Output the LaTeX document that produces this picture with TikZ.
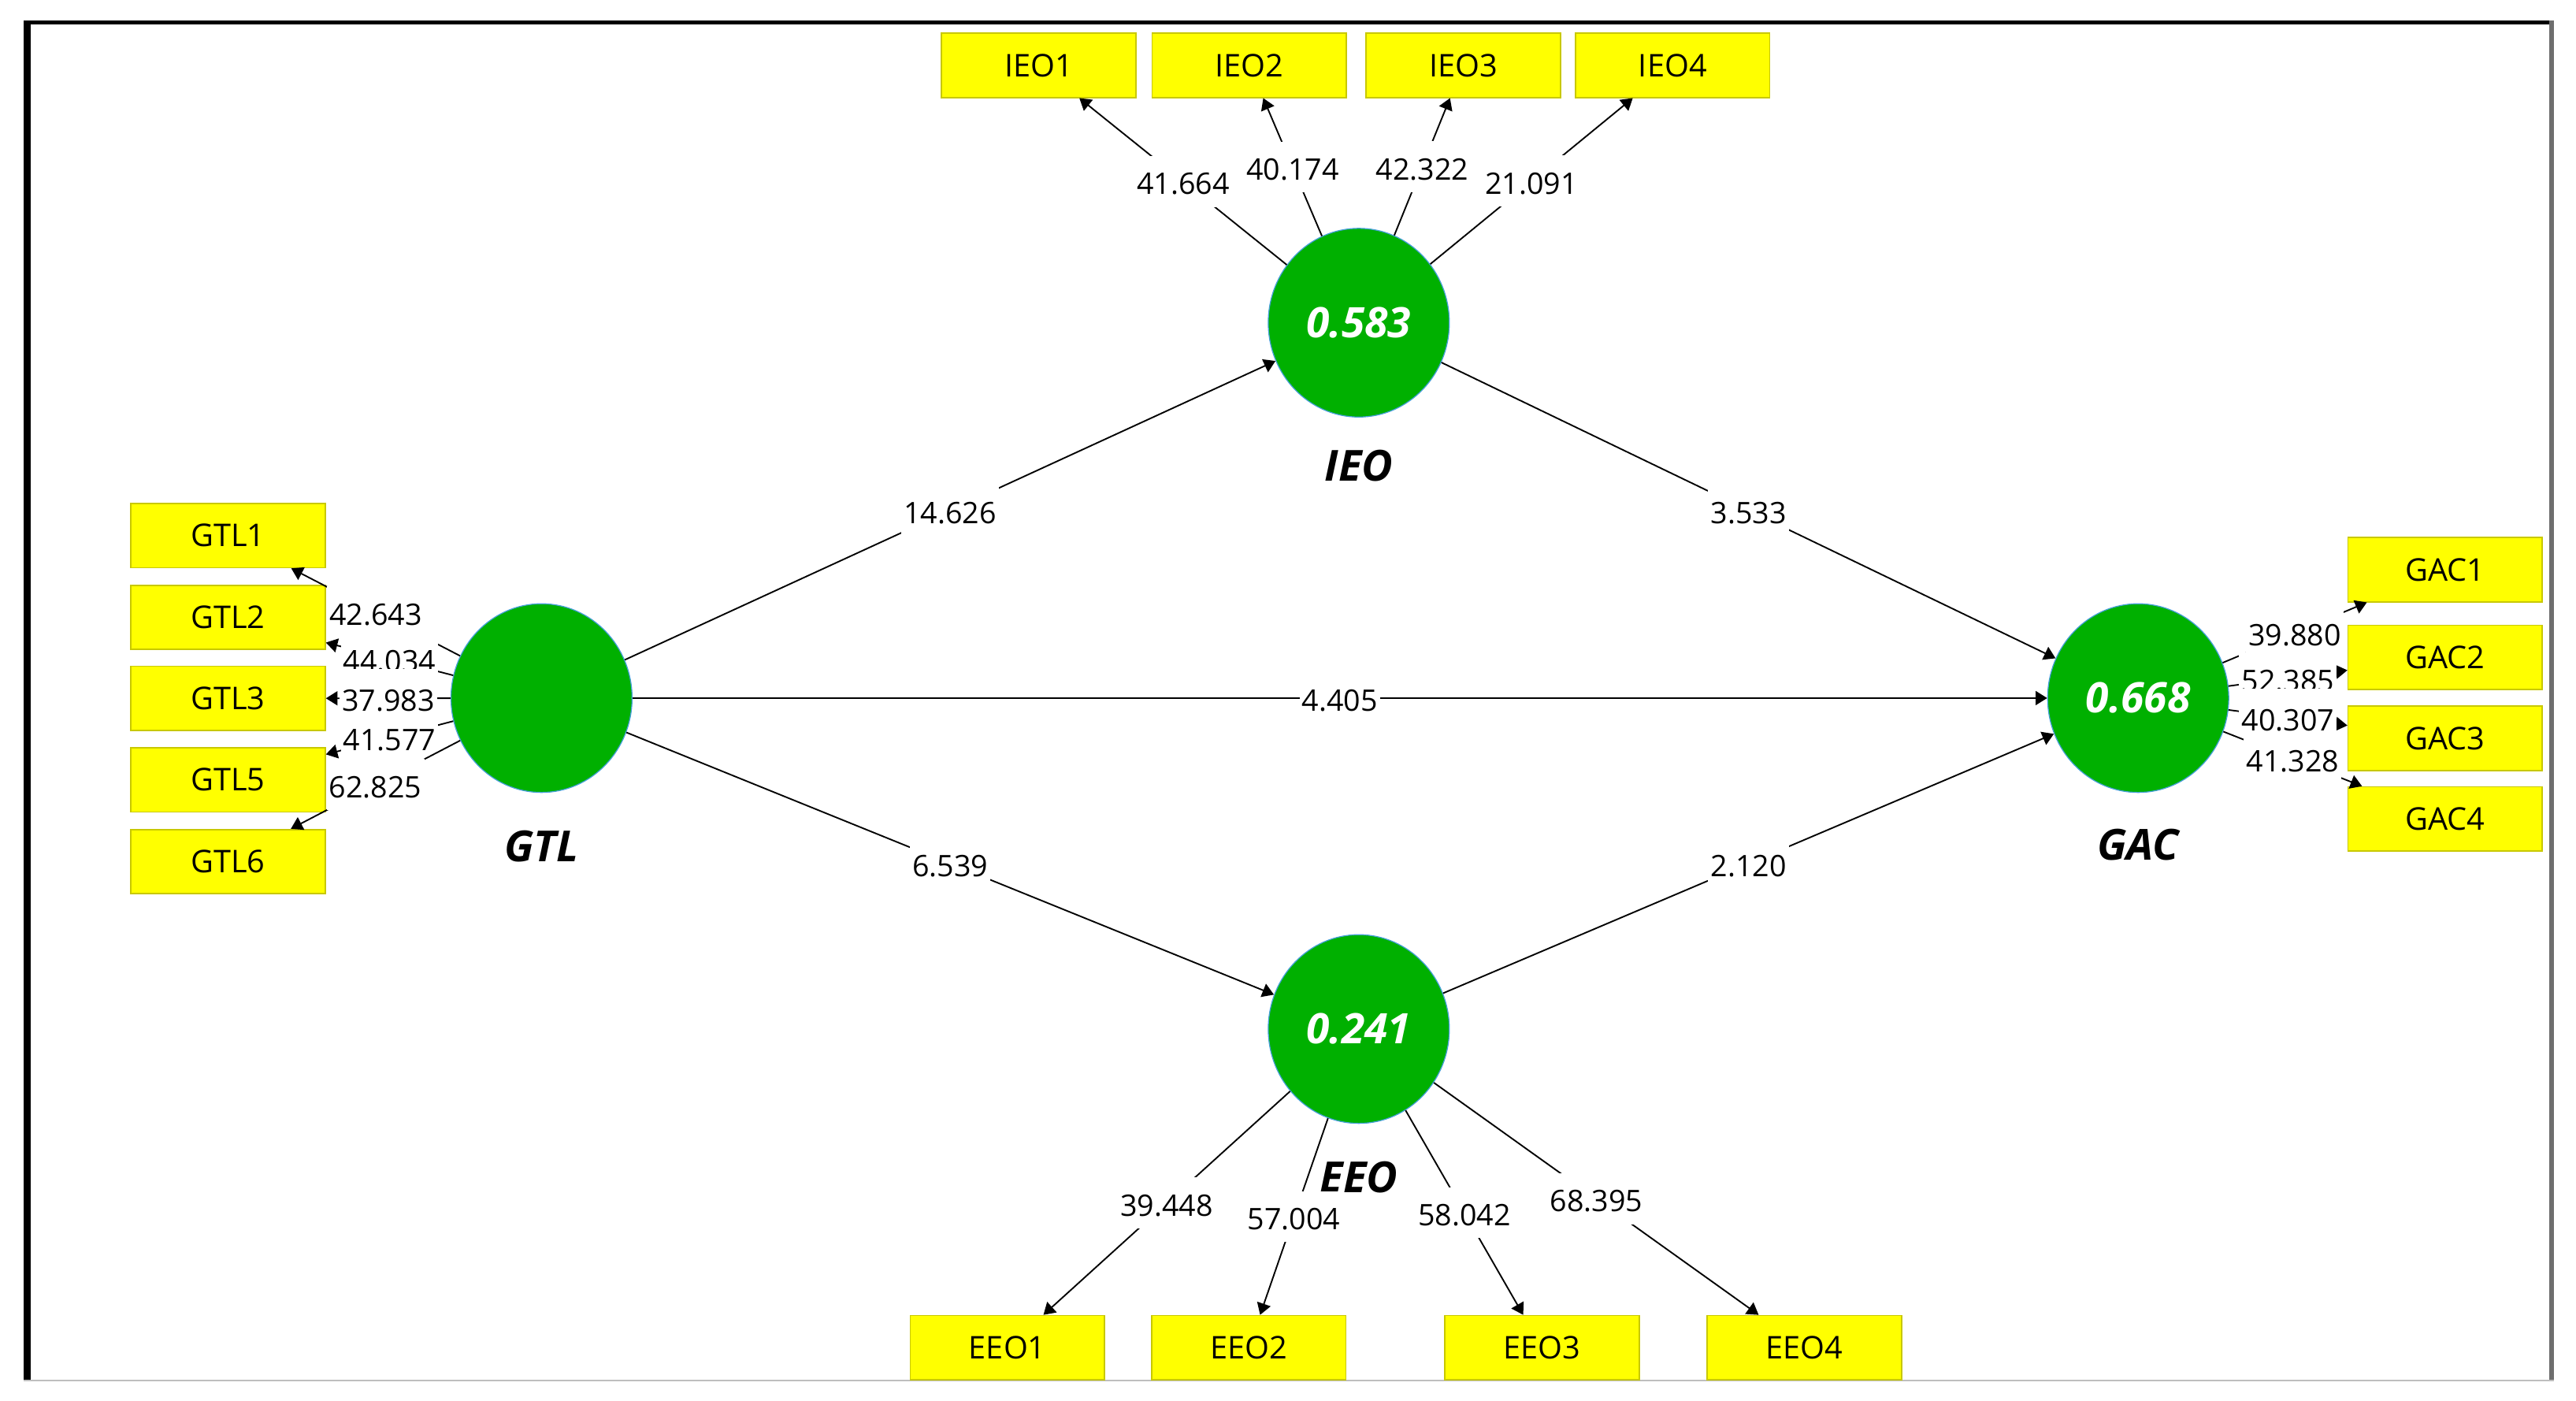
\documentclass[tikz,border=0pt]{standalone}
\usepackage{fontspec}
\setmainfont{Open Sans}
\usetikzlibrary{shapes.geometric,arrows.meta,calc}
\definecolor{boxyellow}{RGB}{255,255,0}
\definecolor{boxedge}{RGB}{200,200,0}
\definecolor{lvgreen}{RGB}{0,176,0}
\definecolor{lvedge}{RGB}{70,160,215}
\definecolor{framegray}{RGB}{110,110,110}
\definecolor{bottomgray}{RGB}{190,190,190}
\begin{document}
\begin{tikzpicture}[x=1pt,y=-1pt,
  lv/.style={ellipse, fill=lvgreen, draw=lvedge, line width=0.6pt,
    minimum width=110pt, minimum height=114.6pt, inner sep=0pt,
    text=white, font=\fontsize{25.5}{28}\selectfont\bfseries\itshape},
  ind/.style={rectangle, fill=boxyellow, draw=boxedge, line width=0.8pt,
    minimum width=118pt, minimum height=39pt, inner sep=0pt,
    font=\fontsize{19}{22}\selectfont},
  lvname/.style={font=\fontsize{26}{30}\selectfont\bfseries\itshape, inner sep=0pt},
  conn/.style={line width=0.9pt, -{Triangle[length=7pt,width=8.5pt]}},
  val/.style={fill=white, font=\fontsize{18}{20}\selectfont, inner xsep=1.5pt,
    inner ysep=0pt, text height=23.4pt, text depth=7.6pt},
  valtall/.style={val, text height=25.5pt, yshift=1.05pt}
]
\useasboundingbox (0,0) rectangle (1565,850.9);

% frame
\draw[line width=4.3pt] (16.5,12.4) -- (16.5,838.6);
\draw[line width=2.2pt] (14.4,13.5) -- (1551.5,13.5);
\draw[framegray, line width=3pt] (1550,12.4) -- (1550,838.6);
\draw[bottomgray, line width=0.8pt] (14.4,838.6) -- (1551.5,838.6);

% latent variables
\node[lv] (GTL) at (329,424) {};
\node[lv] (IEO) at (825.5,196) {0.583};
\node[lv] (GAC) at (1299,424) {0.668};
\node[lv] (EEO) at (825.5,625) {0.241};

\node[lvname] (GTLn) at (329,514) {GTL};
\node[lvname] (IEOn) at (825.5,283) {IEO};
\node[lvname] (GACn) at (1299,513) {GAC};
\node[lvname] (EEOn) at (825.5,715) {EEO};

% indicators
\node[ind] (IEO1) at (631,39.7) {IEO1};
\node[ind] (IEO2) at (759,39.7) {IEO2};
\node[ind] (IEO3) at (889,39.7) {IEO3};
\node[ind] (IEO4) at (1016.2,39.7) {IEO4};

\node[ind] (GTL1) at (138.6,325.3) {GTL1};
\node[ind] (GTL2) at (138.6,375) {GTL2};
\node[ind] (GTL3) at (138.6,424.2) {GTL3};
\node[ind] (GTL5) at (138.6,473.7) {GTL5};
\node[ind] (GTL6) at (138.6,523.3) {GTL6};

\node[ind] (GAC1) at (1485.5,346) {GAC1};
\node[ind] (GAC2) at (1485.5,399.2) {GAC2};
\node[ind] (GAC3) at (1485.5,448.4) {GAC3};
\node[ind] (GAC4) at (1485.5,497.4) {GAC4};

\node[ind] (EEO1) at (612,818.5) {EEO1};
\node[ind] (EEO2) at (758.7,818.5) {EEO2};
\node[ind] (EEO3) at (936.8,818.5) {EEO3};
\node[ind] (EEO4) at (1096.2,818.5) {EEO4};

% outer loadings
\draw[conn] (IEO) -- (IEO1) node[midway,val] {41.664};
\draw[conn] (IEO) -- (IEO2) node[midway,val] {40.174};
\draw[conn] (IEO) -- (IEO3) node[midway,val] {42.322};
\draw[conn] (IEO) -- (IEO4) node[midway,val] {21.091};

\draw[conn] (GTL) -- (GTL1) node[midway,val] {42.643};
\draw[conn] (GTL) -- (GTL2) node[midway,val] {44.034};
\draw[conn] (GTL) -- (GTL3) node[midway,valtall] {37.983};
\draw[conn] (GTL) -- (GTL5) node[midway,val] {41.577};
\draw[conn] (GTL) -- (GTL6) node[midway,val] {62.825};

\draw[conn] (GAC) -- (GAC1) node[midway,val] {39.880};
\draw[conn] (GAC) -- (GAC2) node[midway,val] {52.385};
\draw[conn] (GAC) -- (GAC3) node[midway,valtall] {40.307};
\draw[conn] (GAC) -- (GAC4) node[midway,val] {41.328};

\draw[conn] (EEO) -- (EEO1) node[midway,val] {39.448};
\draw[conn] (EEO) -- (EEO2) node[midway,val] {57.004};
\draw[conn] (EEO) -- (EEO3) node[midway,val] {58.042};
\draw[conn] (EEO) -- (EEO4) node[midway,val] {68.395};

% structural paths
\draw[conn] (GTL) -- (IEO) node[midway,val] {14.626};
\draw[conn] (IEO) -- (GAC) node[midway,val] {3.533};
\draw[conn] (GTL) -- (GAC) node[midway,val] {4.405};
\draw[conn] (GTL) -- (EEO) node[midway,val] {6.539};
\draw[conn] (EEO) -- (GAC) node[midway,val] {2.120};
\end{tikzpicture}
\end{document}
